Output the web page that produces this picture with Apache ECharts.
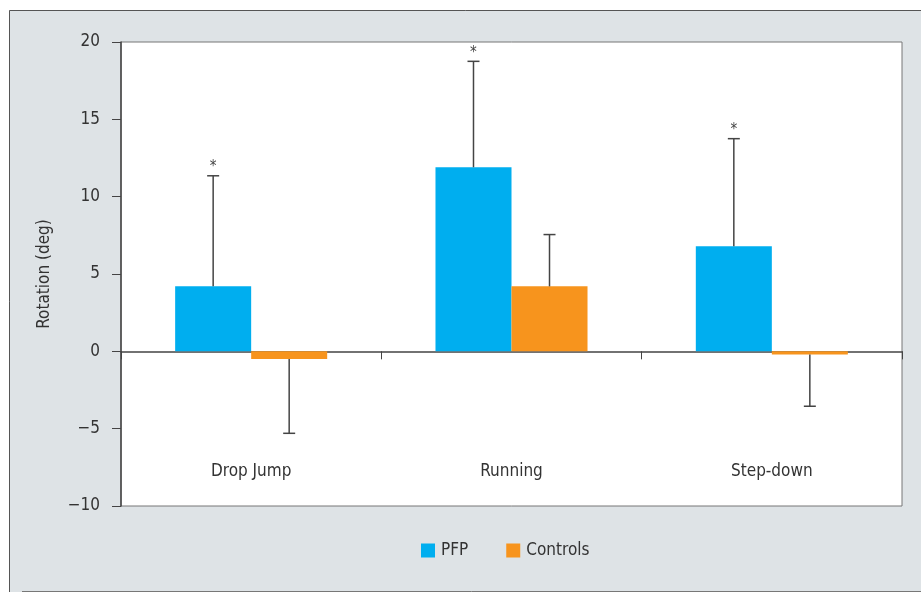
<!DOCTYPE html>
<html>
<head>
<meta charset="utf-8">
<script src="https://cdn.jsdelivr.net/npm/echarts@6/dist/echarts.min.js"></script>
<style>
  html, body { margin: 0; padding: 0; background: #ffffff; }
  #chart { width: 921px; height: 592px; }
</style>
</head>
<body>
<div id="chart"></div>
<script>
// Knee rotation by task, mean with one-sided SD whiskers
var categories = ['Drop Jump', 'Running', 'Step-down'];
var pfpMean = [4.2, 11.9, 6.8];
var pfpSD = [7.15, 6.85, 6.95];
var controlMean = [-0.5, 4.2, -0.2];
var controlSD = [4.8, 3.35, 3.35];
var pfpSignificant = [true, true, true];
var yTicks = { min: -10, max: 20, step: 5 };

var FONT = '"Liberation Sans Narrow", "DejaVu Sans Condensed", "Roboto Condensed", sans-serif';
var INK = '#333333';
var BAR_SHARE = 0.292; // fraction of a category band used by one bar

function whiskerSeries(name, means, sds, side, flags) {
  var data = means.map(function (m, i) { return [i, m, sds[i], flags ? (flags[i] ? 1 : 0) : 0]; });
  return {
    name: name + ' SD',
    type: 'custom',
    z: 5,
    silent: true,
    data: data,
    encode: { x: 0, y: 1 },
    renderItem: function (params, api) {
      var idx = api.value(0);
      var mean = api.value(1);
      var sd = api.value(2);
      var star = api.value(3);
      var band = api.size([1, 0])[0];
      var base = api.coord([idx, mean]);
      var end = mean >= 0 ? mean + sd : mean - sd;
      var tip = api.coord([idx, end]);
      var x = base[0] + side * band * BAR_SHARE / 2;
      var cap = 6;
      var children = [
        { type: 'line', shape: { x1: x, y1: base[1], x2: x, y2: tip[1] },
          style: { stroke: '#444', lineWidth: 1.5 } },
        { type: 'line', shape: { x1: x - cap, y1: tip[1], x2: x + cap, y2: tip[1] },
          style: { stroke: '#444', lineWidth: 1.5 } }
      ];
      if (star) {
        children.push({ type: 'text', x: x, y: tip[1] - 1,
          style: { text: '*', fill: '#444', font: '15px ' + FONT, align: 'center', verticalAlign: 'bottom' } });
      }
      return { type: 'group', children: children };
    }
  };
}

var chart = echarts.init(document.getElementById('chart'));
chart.setOption({
  backgroundColor: '#ffffff',
  animation: false,
  graphic: [
    { type: 'rect', z: -10, shape: { x: 9, y: 10, width: 912, height: 582 }, style: { fill: '#dee3e6' } },
    { type: 'line', z: -9, shape: { x1: 9.5, y1: 10.5, x2: 921, y2: 10.5 }, style: { stroke: '#555', lineWidth: 1 } },
    { type: 'line', z: -9, shape: { x1: 9.5, y1: 10.5, x2: 9.5, y2: 592 }, style: { stroke: '#555', lineWidth: 1 } },
    { type: 'line', z: -9, shape: { x1: 22, y1: 591.5, x2: 921, y2: 591.5 }, style: { stroke: '#777', lineWidth: 1 } }
  ],
  grid: {
    left: 121, right: 19, top: 42, bottom: 86,
    outerBoundsMode: 'none',
    containLabel: false,
    show: true, backgroundColor: '#ffffff', borderColor: '#777', borderWidth: 1
  },
  legend: {
    left: 416, top: 537,
    itemWidth: 14, itemHeight: 14, itemGap: 38,
    icon: 'rect',
    data: ['PFP', 'Controls'],
    textStyle: { fontFamily: FONT, fontSize: 17, color: INK, padding: [0, 0, 0, 1] }
  },
  xAxis: {
    type: 'category',
    data: categories,
    axisLine: { onZero: true, lineStyle: { color: '#444', width: 1.5 } },
    axisTick: { show: true, length: 8, lineStyle: { color: '#444' } },
    axisLabel: { margin: -43, fontFamily: FONT, fontSize: 17, color: INK }
  },
  yAxis: {
    type: 'value',
    min: yTicks.min, max: yTicks.max, interval: yTicks.step,
    name: 'Rotation (deg)',
    nameLocation: 'middle',
    nameGap: 68,
    nameTextStyle: { fontFamily: FONT, fontSize: 17, color: INK },
    axisLine: { show: true, onZero: false, lineStyle: { color: '#444', width: 1.5 } },
    axisTick: { show: true, length: 9, lineStyle: { color: '#444' } },
    splitLine: { show: false },
    axisLabel: {
      margin: 21, fontFamily: FONT, fontSize: 17, color: INK,
      formatter: function (v) { return v < 0 ? '\u2212' + Math.abs(v) : String(v); }
    }
  },
  series: [
    { name: 'PFP', type: 'bar', data: pfpMean, barWidth: (BAR_SHARE * 100) + '%', barGap: '0%',
      itemStyle: { color: '#00aeef' } },
    { name: 'Controls', type: 'bar', data: controlMean, barWidth: (BAR_SHARE * 100) + '%', barGap: '0%',
      itemStyle: { color: '#f7941d' } },
    whiskerSeries('PFP', pfpMean, pfpSD, -1, pfpSignificant),
    whiskerSeries('Controls', controlMean, controlSD, 1, null)
  ]
});
</script>
</body>
</html>
